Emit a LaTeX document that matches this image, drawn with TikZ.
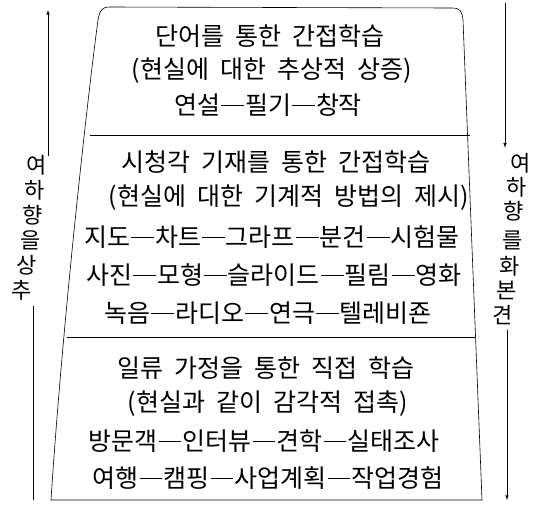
\documentclass[tikz,border=0pt]{standalone}
\usepackage{fontspec}
\setmainfont{Noto Sans CJK KR}
\newcommand\ddash{\hspace{0.05em}\rule[0.32em]{0.9em}{0.045em}\hspace{0.05em}}
\newcommand\txtfont{\fontsize{25}{25}\selectfont\spaceskip=0.45em\relax}

\begin{document}
\begin{tikzpicture}[x=1pt,y=-1pt,line width=.6pt]
  \tikzset{
    txt/.style={font=\txtfont, inner sep=0pt},
    side/.style={font=\fontsize{22}{22}\selectfont, inner sep=0pt},
  }
  \useasboundingbox (0,0) rectangle (536,507);

  \draw (51,500) .. controls (62,330) and (86,110) .. (98,20)
        .. controls (100,10) and (102,7) .. (110,7) -- (452,8)
        .. controls (460,8) and (462,11) .. (463,20) -- (482,500) -- cycle;
  \draw (90,135) -- (470,135);
  \draw (67,337) -- (475,337);

  \node[txt] (s1a) at (270,36) {단어를 통한 간접학습};
  \node[txt] (s1b) at (272,71) {(현실에 대한 추상적 상증)};
  \node[txt] (s1c) at (268,105) {연설\ddash 필기\ddash 창작};

  \node[txt] (s2a) at (276,162) {시청각 기재를 통한 간접학습};
  \node[txt] (s2b) at (289,198) {(현실에 대한 기계적 방법의 제시)};
  \node[txt] (s2c) at (272,237) {지도\ddash 차트\ddash 그라프\ddash 분건\ddash 시험물};
  \node[txt] (s2d) at (274,275) {사진\ddash 모형\ddash 슬라이드\ddash 필림\ddash 영화};
  \node[txt] (s2e) at (268,313) {녹음\ddash 라디오\ddash 연극\ddash 텔레비죤};

  \node[txt] (s3a) at (266,368) {일류 가정을 통한 직접 학습};
  \node[txt] (s3b) at (268,404) {(현실과 같이 감각적 접촉)};
  \node[txt] (s3c) at (264,441) {방문객\ddash 인터뷰\ddash 견학\ddash 실태조사};
  \node[txt] (s3d) at (268,478) {여행\ddash 캠핑\ddash 사업계획\ddash 작업경험};

  \foreach \c/\x/\y [count=\i] in {여/37/165, 하/35/190, 향/33/215, 을/31/240, 상/27/265, 추/22/290}
    \node[side] (l\i) at (\x,\y) {\c};
  \foreach \c/\x/\y [count=\i] in {여/521/163, 하/517/187, 향/514/211, 를/513/240, 화/510/266, 본/507/290, 견/503/315}
    \node[side] (r\i) at (\x,\y) {\c};

  \coordinate (ltop) at (48,10);
  \coordinate (lend) at (33,500);
  \coordinate (rtop) at (505,3);
  \coordinate (rend) at (507,500);

  \draw[-latex] ([yshift=-1pt]l1.north -| ltop) -- (ltop);
  \draw ([yshift=-6pt]l6.south -| lend) -- (lend);
  \draw[-latex] (rtop) -- ([yshift=5pt]r1.north -| rtop);
  \draw[-latex] ([yshift=-5pt]r7.south -| rend) -- (rend);
\end{tikzpicture}
\end{document}
